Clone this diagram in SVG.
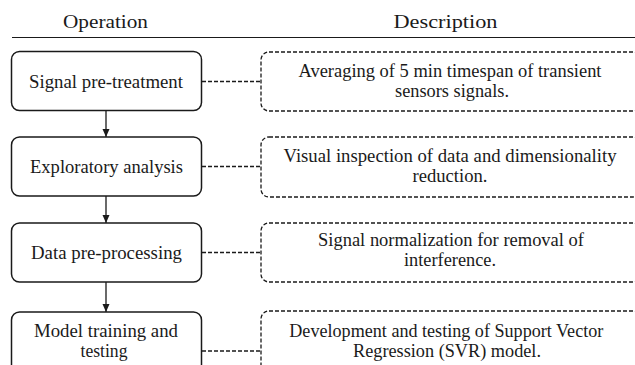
<svg xmlns="http://www.w3.org/2000/svg" width="635" height="365" viewBox="0 0 635 365">
<defs>
<style>
text{font-family:"Liberation Serif","Times New Roman",serif;font-size:18px;fill:#1a1a1a;text-anchor:middle}
.op{fill:#fff;stroke:#1a1a1a;stroke-width:1.5}
.ds{fill:#fff;stroke:#1a1a1a;stroke-width:1.3;stroke-dasharray:4 2}
.dl{fill:none;stroke:#1a1a1a;stroke-width:1.3;stroke-dasharray:4 2}
.ar{fill:none;stroke:#1a1a1a;stroke-width:1.3}
</style>
<marker id="ah" viewBox="0 0 8 8" refX="8" refY="4" markerWidth="8" markerHeight="8" markerUnits="userSpaceOnUse" orient="auto">
<path d="M0,0.5 L8,4 L0,7.5 Z" fill="#1a1a1a"/>
</marker>
</defs>
<g id="header">
<text x="105.5" y="28" textLength="85" lengthAdjust="spacingAndGlyphs">Operation</text>
<text x="445.5" y="28" textLength="104" lengthAdjust="spacingAndGlyphs">Description</text>
<line x1="12" y1="37.5" x2="635" y2="37.5" stroke="#1a1a1a" stroke-width="1"/>
</g>
<g id="connectors">
<line class="ar" x1="106" y1="111" x2="106" y2="137" marker-end="url(#ah)"/>
<line class="ar" x1="106" y1="196" x2="106" y2="223" marker-end="url(#ah)"/>
<line class="ar" x1="106" y1="282" x2="106" y2="312" marker-end="url(#ah)"/>
<line class="dl" x1="202" y1="81.5" x2="261" y2="81.5"/>
<line class="dl" x1="202" y1="166.5" x2="261" y2="166.5"/>
<line class="dl" x1="202" y1="252.5" x2="261" y2="252.5"/>
<line class="dl" x1="202" y1="351" x2="261" y2="351"/>
</g>
<g id="op1">
<rect class="op" x="11.5" y="51.5" width="190" height="59" rx="8"/>
<text x="106" y="87.5" textLength="154" lengthAdjust="spacingAndGlyphs">Signal pre-treatment</text>
</g>
<g id="op2">
<rect class="op" x="11.5" y="137" width="190" height="59" rx="8"/>
<text x="106.5" y="172.5" textLength="153" lengthAdjust="spacingAndGlyphs">Exploratory analysis</text>
</g>
<g id="op3">
<rect class="op" x="11.5" y="223" width="190" height="59" rx="8"/>
<text x="106.5" y="259" textLength="151" lengthAdjust="spacingAndGlyphs">Data pre-processing</text>
</g>
<g id="op4">
<rect class="op" x="11.5" y="312" width="190" height="78" rx="8"/>
<text x="106" y="336.7" textLength="144" lengthAdjust="spacingAndGlyphs">Model training and</text>
<text x="104" y="356.7" textLength="47" lengthAdjust="spacingAndGlyphs">testing</text>
</g>
<g id="desc1">
<rect class="ds" x="261" y="52" width="380" height="59" rx="8"/>
<text x="450" y="76.5" textLength="303" lengthAdjust="spacingAndGlyphs">Averaging of 5 min timespan of transient</text>
<text x="452" y="96.5" textLength="114" lengthAdjust="spacingAndGlyphs">sensors signals.</text>
</g>
<g id="desc2">
<rect class="ds" x="261" y="137" width="380" height="60" rx="8"/>
<text x="450" y="162" textLength="333" lengthAdjust="spacingAndGlyphs">Visual inspection of data and dimensionality</text>
<text x="450" y="182" textLength="75" lengthAdjust="spacingAndGlyphs">reduction.</text>
</g>
<g id="desc3">
<rect class="ds" x="261" y="223" width="380" height="59" rx="8"/>
<text x="451" y="245.7" textLength="266" lengthAdjust="spacingAndGlyphs">Signal normalization for removal of</text>
<text x="450" y="265.7" textLength="92" lengthAdjust="spacingAndGlyphs">interference.</text>
</g>
<g id="desc4">
<rect class="ds" x="261" y="311" width="380" height="80" rx="8"/>
<text x="446.3" y="336.7" textLength="314" lengthAdjust="spacingAndGlyphs">Development and testing of Support Vector</text>
<text x="447" y="356.7" textLength="188" lengthAdjust="spacingAndGlyphs">Regression (SVR) model.</text>
</g>
</svg>
